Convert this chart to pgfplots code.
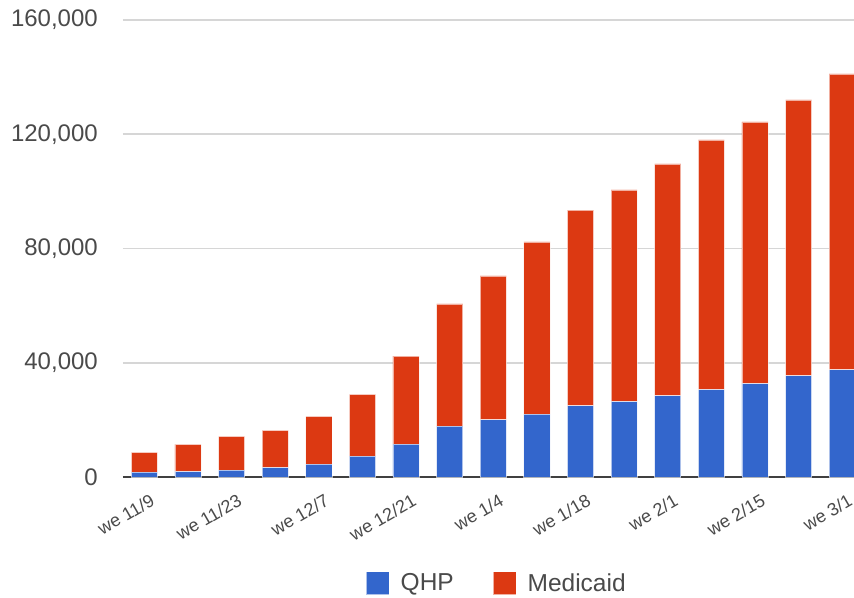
\documentclass[border=0pt]{standalone}
\usepackage{fontspec}
\setmainfont{Liberation Sans}
\usepackage{pgfplots}
\pgfplotsset{compat=1.18}
\usepackage{pgfplotstable}
\definecolor{qhp}{HTML}{3366CC}
\definecolor{med}{HTML}{DC3912}
\definecolor{lbl}{HTML}{4A4A4A}
\definecolor{grd}{HTML}{D6D6D6}
\pgfplotstableread{
x qhp med
0 1750 6850
1 1900 9500
2 2450 11750
3 3300 13050
4 4550 16650
5 7350 21550
6 11550 30750
7 17850 42750
8 20000 50400
9 22000 60300
10 24900 68500
11 26400 74100
12 28400 81200
13 30600 87400
14 32700 91600
15 35400 96600
16 37500 103600
}\datatable
\begin{document}
\begin{tikzpicture}
\useasboundingbox (-123pt,-120pt) rectangle (731pt,477pt);
\begin{axis}[
  at={(0pt,0pt)}, anchor=south west,
  scale only axis, width=731pt, height=457pt,
  ybar stacked, bar width=0.6,
  xmin=-0.49, xmax=16.27, ymin=0, ymax=160000,
  xtick={0,2,...,16},
  xticklabels={we 11/9, we 11/23, we 12/7, we 12/21, we 1/4, we 1/18, we 2/1, we 2/15, we 3/1},
  ytick={0,40000,80000,120000,160000},
  scaled y ticks=false,
  yticklabel={\pgfmathprintnumber[fixed,precision=0,1000 sep={,},assume math mode=true]{\tick}},
  axis line style={draw=none},
  major tick length=0pt,
  ymajorgrids, grid style={draw=grd, line width=1.6pt},
  yticklabel style={font=\fontsize{24}{28}\selectfont, text=lbl, anchor=east, inner sep=0pt, xshift=-25pt},
  xticklabel style={font=\fontsize{18}{21}\selectfont, text=lbl, xshift=5pt, yshift=-16pt, rotate=30, anchor=north east, inner sep=0pt},
  legend columns=2,
  legend style={at={(0.510,-0.232)}, anchor=center, draw=none, fill=none, inner sep=0pt,
    font=\fontsize{24.5}{28}\selectfont, text=lbl,
    nodes={inner sep=0pt},
    cells={anchor=west},
    /tikz/every odd column/.append style={column sep=11pt},
    /tikz/every even column/.append style={column sep=39pt}},
  legend image code/.code={\fill[#1] (0pt,-11.5pt) rectangle (23pt,11.5pt);},
]
\addplot[fill=qhp, draw=white, draw opacity=0.6, line width=0.8pt] table[x=x, y=qhp] {\datatable};
\addlegendentry{QHP}
\addplot[fill=med, draw=white, draw opacity=0.6, line width=0.8pt] table[x=x, y=med] {\datatable};
\addlegendentry{Medicaid}
\draw[draw=black!75, line width=1.8pt] (rel axis cs:0,0) -- (rel axis cs:1,0);
\end{axis}
\end{tikzpicture}
\end{document}
